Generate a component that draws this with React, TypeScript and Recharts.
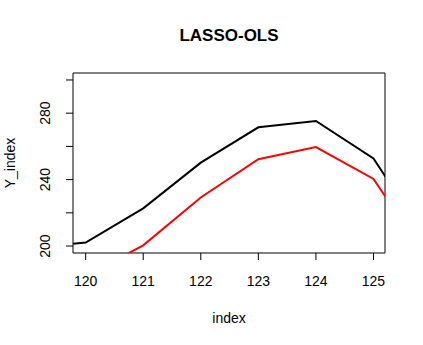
import React from "react";
import { LineChart, Line, XAxis, YAxis, ReferenceArea } from "recharts";

// ── Data ────────────────────────────────────────────────────────────

const INDEX = [119, 120, 121, 122, 123, 124, 125, 126];
const LASSO = [199, 202.1, 222.7, 250.2, 271.5, 275.3, 252.8, 199.7];
const OLS: (number | null)[] = [null, 182, 200.4, 229.2, 252.3, 259.6, 240.4, 189];

const X_TICKS = [120, 121, 122, 123, 124, 125];
const Y_TICKS = [200, 220, 240, 260, 280, 300];
const Y_LABELED = [200, 240, 280];

const X_DOMAIN: [number, number] = [119.78, 125.2];
const Y_DOMAIN: [number, number] = [195.8, 304.2];

const FONT = "'Liberation Sans', Arial, sans-serif";

const rows = INDEX.map((x, i) => ({ x, lasso: LASSO[i], ols: OLS[i] }));

// R-style rotated y tick labels, only every other one like base graphics drops them
// eslint-disable-next-line @typescript-eslint/no-explicit-any
function YTick(props: any) {
  const { y, payload } = props;
  if (!Y_LABELED.includes(payload.value)) return <g />;
  return (
    <text x={50} y={y} transform={`rotate(-90, 50, ${y})`} textAnchor="middle" fontSize={14} fill="#000" fontFamily={FONT}>
      {payload.value}
    </text>
  );
}

// eslint-disable-next-line @typescript-eslint/no-explicit-any
function XTick(props: any) {
  const { x, payload } = props;
  return (
    <text x={x} y={286} textAnchor="middle" fontSize={14} fill="#000" fontFamily={FONT}>
      {payload.value}
    </text>
  );
}

export default function App() {
  return (
    <div style={{ position: "absolute", left: 0, top: 0, width: 423, height: 345, background: "#fff", fontFamily: FONT }}>
      <div style={{ position: "absolute", left: 73, width: 312, top: 26, textAlign: "center", fontWeight: "bold", fontSize: 17, color: "#000" }}>
        LASSO-OLS
      </div>
      <LineChart width={423} height={345} data={rows} margin={{ top: 73, right: 38, bottom: 0, left: 0 }}>
        <XAxis
          dataKey="x"
          type="number"
          domain={X_DOMAIN}
          ticks={X_TICKS}
          allowDataOverflow
          height={92}
          axisLine={false}
          tickSize={7}
          tickLine={{ stroke: "#000" }}
          tick={<XTick />}
          label={{
            content: () => (
              <text x={229} y={323} textAnchor="middle" fontSize={14} fill="#000" fontFamily={FONT}>index</text>
            ),
          }}
        />
        <YAxis
          type="number"
          domain={Y_DOMAIN}
          ticks={Y_TICKS}
          allowDataOverflow
          width={73}
          axisLine={false}
          tickSize={7}
          tickLine={{ stroke: "#000" }}
          tick={<YTick />}
          label={{
            content: () => (
              <text x={15} y={163} transform="rotate(-90, 15, 163)" textAnchor="middle" fontSize={14} fill="#000" fontFamily={FONT}>Y_index</text>
            ),
          }}
        />
        <Line type="linear" dataKey="lasso" stroke="#000" strokeWidth={2} dot={false} isAnimationActive={false} />
        <Line type="linear" dataKey="ols" stroke="#ff0000" strokeWidth={2} dot={false} isAnimationActive={false} />
        <ReferenceArea x1={X_DOMAIN[0]} x2={X_DOMAIN[1]} y1={Y_DOMAIN[0]} y2={Y_DOMAIN[1]} fill="none" stroke="#000" strokeWidth={1} ifOverflow="visible" />
      </LineChart>
    </div>
  );
}
